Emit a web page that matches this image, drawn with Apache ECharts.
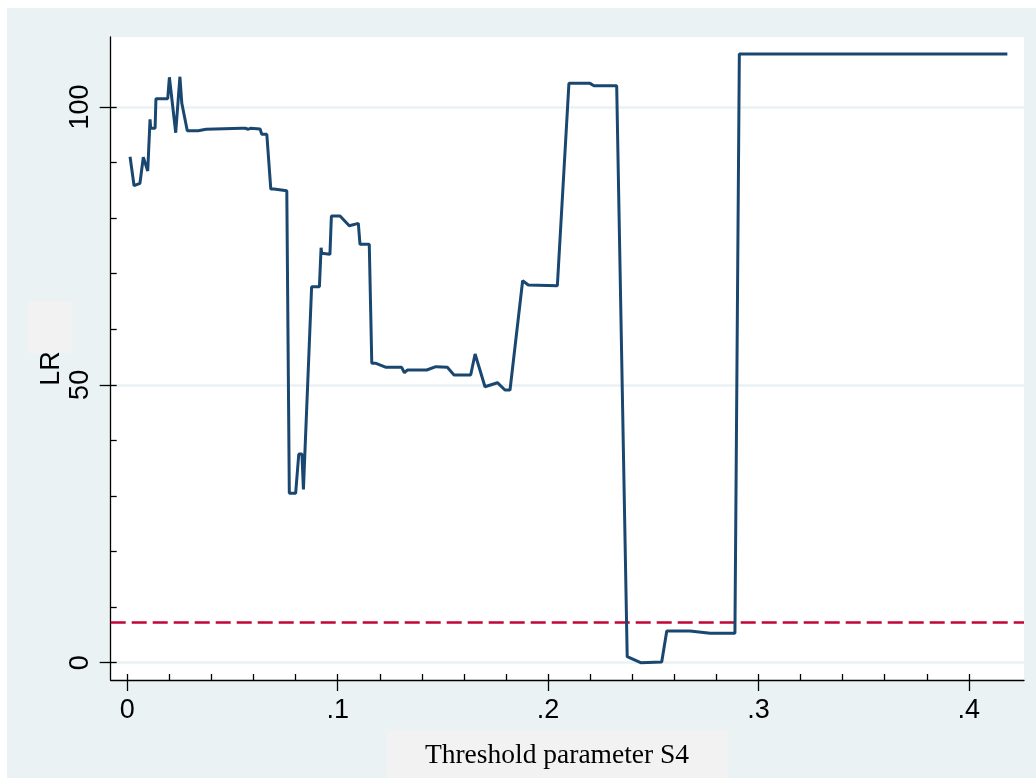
<!DOCTYPE html>
<html>
<head>
<meta charset="utf-8">
<title>LR</title>
<script src="https://cdn.jsdelivr.net/npm/echarts@6.0.0/dist/echarts.min.js"></script>
<style>
html, body { margin: 0; padding: 0; background: #fff; }
#lrChart { width: 1036px; height: 778px; }
</style>
</head>
<body>
<div id="lrChart"></div>
<script>
// threshold parameter S4
var thresholds = [0.0013, 0.0022, 0.0032, 0.0060, 0.0067, 0.0076, 0.0097, 0.0108, 0.0111, 0.0132,
  0.0136, 0.0192, 0.0200, 0.0230, 0.0250, 0.0259, 0.0285, 0.0337, 0.0346, 0.0374,
  0.0380, 0.0545, 0.0552, 0.0560, 0.0575, 0.0585, 0.0631, 0.0639, 0.0663, 0.0682,
  0.0697, 0.0702, 0.0758, 0.0770, 0.0800, 0.0815, 0.0830, 0.0837, 0.0876, 0.0913,
  0.0921, 0.0924, 0.0963, 0.0970, 0.1011, 0.1055, 0.1098, 0.1106, 0.1150, 0.1162,
  0.1182, 0.1230, 0.1304, 0.1317, 0.1331, 0.1423, 0.1467, 0.1521, 0.1553, 0.1632,
  0.1653, 0.1700, 0.1759, 0.1795, 0.1819, 0.1879, 0.1906, 0.2044, 0.2099, 0.2199,
  0.2218, 0.2326, 0.2376, 0.2440, 0.2540, 0.2564, 0.2674, 0.2770, 0.2888, 0.2909,
  0.4183];
// LR statistic
var lrValues = [91.06, 90.95, 85.84, 86.27, 86.27, 90.95, 88.48, 97.79, 96.17, 96.17,
  101.49, 101.49, 105.35, 95.37, 105.45, 100.67, 95.73, 95.73, 95.99, 95.99,
  96.17, 96.17, 95.95, 96.17, 96.0, 96.17, 96.04, 95.09, 95.09, 85.24,
  85.24, 84.94, 84.94, 30.48, 30.48, 37.56, 37.56, 31.20, 67.66, 67.66,
  74.68, 73.67, 73.49, 80.38, 80.38, 78.64, 79.07, 75.29, 75.29, 53.88,
  53.88, 53.16, 53.16, 52.19, 52.67, 52.67, 53.27, 53.16, 51.77, 51.77,
  55.55, 49.67, 50.39, 49.08, 49.08, 68.74, 67.97, 67.84, 104.26, 104.26,
  103.83, 103.83, 1.08, 0.00, 0.13, 5.70, 5.70, 5.29, 5.29, 109.54,
  109.54];
// 临界值 (红色虚线)
var critValue = 7.35;

var xTicks = [0, 0.1, 0.2, 0.3, 0.4];
var xMinorTicks = [0, 0.02, 0.04, 0.06, 0.08, 0.1, 0.12, 0.14, 0.16, 0.18, 0.2,
  0.22, 0.24, 0.26, 0.28, 0.3, 0.32, 0.34, 0.36, 0.38, 0.4];
var yTicks = [0, 50, 100];
var yMinorTicks = [0, 10, 20, 30, 40, 50, 60, 70, 80, 90, 100];

var xTitle = "Threshold parameter S4";
var yTitle = "LR";

var myChart = echarts.init(document.getElementById("lrChart"));

var xMin = -0.0079, xMax = 0.4262;
var yMin = -3.11, yMax = 112.6;
var axisColor = "#000";
var labelFont = "'Liberation Sans', Arial, sans-serif";

var option = {
  animation: false,
  backgroundColor: "#EAF2F3",
  grid: {
    left: 110.7,
    right: 12,
    top: 37,
    bottom: 98,
    show: true,
    backgroundColor: "#fff",
    borderWidth: 0,
  },
  graphic: [
    { type: "rect", z: -1, shape: { x: 0, y: 0, width: 1036, height: 8 }, style: { fill: "#fff" } },
    { type: "rect", z: -1, shape: { x: 0, y: 0, width: 7, height: 778 }, style: { fill: "#fff" } },
    { type: "rect", shape: { x: 28, y: 301, width: 44, height: 52 }, style: { fill: "#F2F2F2" } },
    { type: "rect", shape: { x: 387, y: 730, width: 341, height: 48 }, style: { fill: "#F2F2F2" } },
    {
      type: "text",
      x: 51.5,
      y: 368.5,
      rotation: Math.PI / 2,
      style: {
        text: yTitle,
        fill: "#000",
        font: "27px " + labelFont,
        textAlign: "center",
        textVerticalAlign: "middle",
      },
    },
    {
      type: "text",
      x: 557,
      y: 756,
      style: {
        text: xTitle,
        fill: "#000",
        font: "27.5px 'Liberation Serif', 'Times New Roman', serif",
        textAlign: "center",
        textVerticalAlign: "middle",
      },
    },
  ],
  xAxis: [
    {
      type: "value",
      position: "bottom",
      min: xMin,
      max: xMax,
      axisLine: { show: true, onZero: false, lineStyle: { color: axisColor, width: 1.3 } },
      axisTick: { show: true, customValues: xTicks, length: 11, lineStyle: { color: axisColor, width: 1.3 } },
      axisLabel: {
        customValues: xTicks,
        margin: 17,
        color: "#000",
        fontSize: 27,
        fontFamily: labelFont,
        formatter: function (v) {
          return v === 0 ? "0" : String(+v.toFixed(2)).replace(/^0/, "");
        },
      },
      splitLine: { show: false },
    },
    {
      // 内侧小刻度
      type: "value",
      position: "bottom",
      min: xMin,
      max: xMax,
      axisLine: { show: false, onZero: false },
      axisTick: { show: true, inside: true, customValues: xMinorTicks, length: 6, lineStyle: { color: axisColor, width: 1.3 } },
      axisLabel: { show: false },
      splitLine: { show: false },
    },
  ],
  yAxis: [
    {
      type: "value",
      position: "left",
      min: yMin,
      max: yMax,
      axisLine: { show: true, onZero: false, lineStyle: { color: axisColor, width: 1.3 } },
      axisTick: { show: true, customValues: yTicks, length: 11, lineStyle: { color: axisColor, width: 1.3 } },
      axisLabel: {
        customValues: yTicks,
        rotate: 90,
        margin: 17,
        color: "#000",
        fontSize: 27,
        fontFamily: labelFont,
      },
      splitLine: { show: true, lineStyle: { color: "#EAF2F3", width: 2.5 } },
    },
    {
      type: "value",
      position: "left",
      min: yMin,
      max: yMax,
      axisLine: { show: false, onZero: false },
      axisTick: { show: true, inside: true, customValues: yMinorTicks, length: 6, lineStyle: { color: axisColor, width: 1.3 } },
      axisLabel: { show: false },
      splitLine: { show: false },
    },
  ],
  series: [
    {
      name: "LR",
      type: "line",
      xAxisIndex: 0,
      yAxisIndex: 0,
      z: 3,
      symbol: "none",
      data: thresholds.map(function (x, i) {
        return [x, lrValues[i]];
      }),
      lineStyle: { color: "#1A476F", width: 3 },
      markLine: {
        silent: true,
        z: 2,
        symbol: ["none", "none"],
        label: { show: false },
        lineStyle: { color: "#C10534", width: 2.5, type: [15, 6] },
        data: [{ yAxis: critValue }],
      },
    },
  ],
};

myChart.setOption(option);
</script>
</body>
</html>
